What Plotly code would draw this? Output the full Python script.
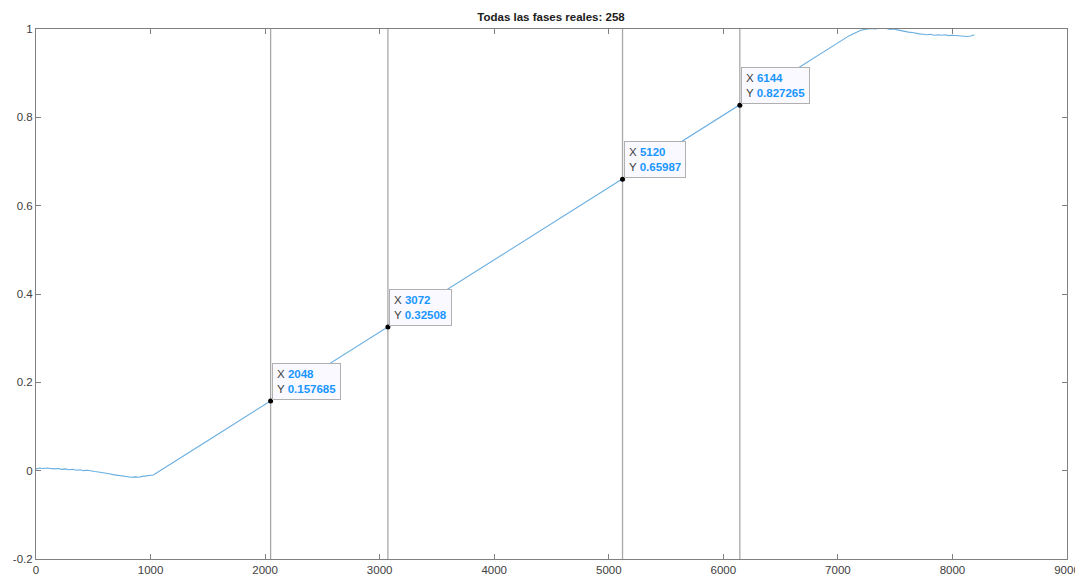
import plotly.graph_objects as go

# readings from the figure
x_start = [0, 32, 64, 96, 128, 160, 192, 224, 256, 288, 320, 352, 384, 416, 448, 480, 512,
           544, 576, 608, 640, 672, 704, 736, 768, 800, 832, 864, 896, 928, 960, 992, 1024]
y_start = [0.004, 0.006, 0.005, 0.006, 0.005, 0.004, 0.005, 0.003, 0.004, 0.002, 0.003, 0.001,
           0.002, 0.000, 0.001, -0.001, -0.002, -0.003, -0.004, -0.006, -0.007, -0.009, -0.010,
           -0.012, -0.013, -0.014, -0.015, -0.014, -0.015, -0.013, -0.012, -0.011, -0.0097]

x_ramp = [1536, 2048, 2560, 3072, 3584, 4096, 4608, 5120, 5632, 6144, 6656, 7100]
y_ramp = [0.074, 0.157685, 0.2414, 0.32508, 0.409, 0.4925, 0.5762, 0.65987, 0.7436, 0.827265,
          0.911, 0.985]

x_end = [7168, 7200, 7232, 7264, 7296, 7328, 7360, 7392, 7424, 7456, 7488, 7520, 7552, 7584,
         7616, 7648, 7680, 7712, 7744, 7776, 7808, 7840, 7872, 7904, 7936, 7968, 8000, 8032,
         8064, 8096, 8128, 8160, 8192]
y_end = [0.993, 0.997, 0.999, 1.000, 1.001, 1.000, 1.002, 1.001, 1.001, 0.999, 1.000, 0.998,
         0.996, 0.995, 0.993, 0.992, 0.990, 0.989, 0.988, 0.987, 0.988, 0.986, 0.987, 0.986,
         0.987, 0.985, 0.986, 0.985, 0.984, 0.984, 0.983, 0.984, 0.987]

tip_x = [2048, 3072, 5120, 6144]
tip_y = [0.157685, 0.32508, 0.65987, 0.827265]
tip_ylabels = ["0.157685", "0.32508", "0.65987", "0.827265"]

x_ticks = [0, 1000, 2000, 3000, 4000, 5000, 6000, 7000, 8000, 9000]
y_ticks = [-0.2, 0, 0.2, 0.4, 0.6, 0.8, 1]
y_ticktext = ["-0.2", "0", "0.2", "0.4", "0.6", "0.8", "1"]

title = "Todas las fases reales: 258"

xs = x_start + x_ramp + x_end
ys = y_start + y_ramp + y_end

fig = go.Figure()
fig.add_trace(go.Scatter(x=xs, y=ys, mode="lines",
                         line=dict(color="#68aee0", width=1.1), hoverinfo="skip"))
fig.add_trace(go.Scatter(x=tip_x, y=tip_y, mode="markers",
                         marker=dict(color="black", size=5), hoverinfo="skip"))

for x in tip_x:
    fig.add_shape(type="line", xref="x", yref="paper", x0=x, x1=x, y0=0, y1=1,
                  line=dict(color="#a8a8a8", width=1.3), layer="below")

blue = "#1996ff"
for x, y, lab in zip(tip_x, tip_y, tip_ylabels):
    txt = ("<span style='color:#404040'>X </span><b style='color:%s'>%d</b><br>"
           "<span style='color:#404040'>Y </span><b style='color:%s'>%s</b>") % (blue, x, blue, lab)
    fig.add_annotation(x=x, y=y, xref="x", yref="y", text=txt, showarrow=False,
                       xanchor="left", yanchor="bottom", align="left", xshift=1, yshift=1,
                       bgcolor="#f9f9ff", bordercolor="#b0b0b0", borderwidth=1, borderpad=4,
                       font=dict(family="Liberation Sans", size=11.5))

axis_common = dict(showline=True, linecolor="#808080", linewidth=1, mirror="ticks",
                   ticks="inside", ticklen=5, tickcolor="#808080", showgrid=False,
                   zeroline=False, automargin=False,
                   tickfont=dict(family="Liberation Sans", size=11.5, color="#404040"))

# the page body adds an 8px offset, so margins are shifted to compensate
fig.update_layout(
    width=1083, height=577,
    margin=dict(l=28, r=24, t=21, b=26),
    paper_bgcolor="white", plot_bgcolor="white",
    showlegend=False,
    title=dict(text="<b>" + title + "</b>", x=(551 - 8) / 1083, xanchor="center", xref="container",
               y=1 - 9 / 577, yanchor="middle", automargin=False,
               font=dict(family="Liberation Sans", size=11.5, color="#202020")),
    xaxis=dict(range=[0, 9000], tickvals=x_ticks, **axis_common),
    yaxis=dict(range=[-0.2, 1], tickvals=y_ticks, ticktext=y_ticktext, **axis_common),
)

fig.write_html("out.html")
